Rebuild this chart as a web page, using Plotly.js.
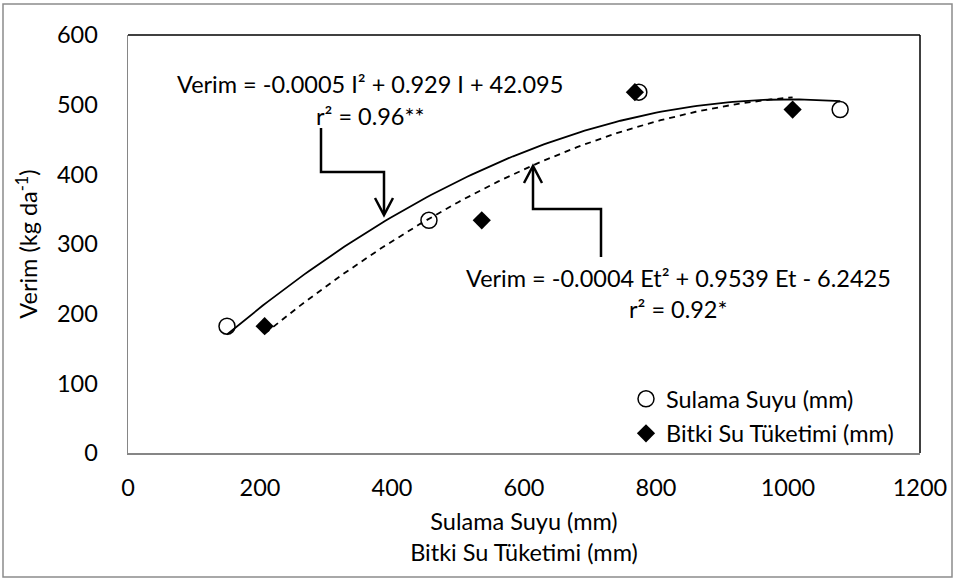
<!DOCTYPE html>
<html><head><meta charset="utf-8">
<script src="https://cdn.plot.ly/plotly-3.0.1.min.js"></script>
<style>html,body{margin:0;padding:0;background:#fff}#chart{width:955px;height:578px}</style>
</head><body><div id="chart"></div>
<script>
// Data
const sulamaSuyu = [150, 456, 774, 1079];      // irrigation water (mm)
const bitkiSu    = [207, 536, 768, 1007];      // crop water use (mm)
const verim      = [182, 334, 518, 493];       // yield (kg da-1)
const xTicks = [0, 200, 400, 600, 800, 1000, 1200];
const yTicks = [0, 100, 200, 300, 400, 500, 600];

// Least-squares quadratic (Excel polynomial trendline, order 2)
function quadFit(xs, ys) {
  const n = xs.length; let S = [0,0,0,0,0], T = [0,0,0];
  for (let i = 0; i < n; i++) {
    const x = xs[i], y = ys[i];
    for (let k = 0; k < 5; k++) S[k] += Math.pow(x, k);
    for (let k = 0; k < 3; k++) T[k] += y * Math.pow(x, k);
  }
  const A = [[S[0],S[1],S[2],T[0]],[S[1],S[2],S[3],T[1]],[S[2],S[3],S[4],T[2]]];
  for (let i = 0; i < 3; i++) {
    let p = i; for (let r = i+1; r < 3; r++) if (Math.abs(A[r][i]) > Math.abs(A[p][i])) p = r;
    [A[i], A[p]] = [A[p], A[i]];
    for (let r = 0; r < 3; r++) if (r !== i) {
      const f = A[r][i] / A[i][i];
      for (let c = i; c < 4; c++) A[r][c] -= f * A[i][c];
    }
  }
  return [A[0][3]/A[0][0], A[1][3]/A[1][1], A[2][3]/A[2][2]];
}
function trend(xs, ys) {
  const c = quadFit(xs, ys), lo = Math.min(...xs), hi = Math.max(...xs);
  const tx = [], ty = [];
  for (let i = 0; i <= 120; i++) { const x = lo + (hi - lo) * i / 120; tx.push(x); ty.push(c[0] + c[1]*x + c[2]*x*x); }
  return {x: tx, y: ty};
}
const tI = trend(sulamaSuyu, verim), tE = trend(bitkiSu, verim);

const FONT = () => ({family: 'Lato, Open Sans, sans-serif', size: 23.5, color: '#000'});
const L = 128, R = 35, T = 35, B = 125, W = 955, H = 578;
const pw = W - L - R, ph = H - T - B;
const X = px => (px - L) / pw * 1200;
const Y = py => (H - B - py) / ph * 600;
function path(pts) {
  return pts.map((p, i) => (i ? 'L' : 'M') + X(p[0]) + ',' + Y(p[1])).join(' ');
}
const lineStyle = () => ({color: '#000', width: 2.5});
const shapes = [
  {type: 'path', xref: 'x', yref: 'y', path: path([[321,128],[321,172],[384,172],[384,213]]), line: lineStyle()},
  {type: 'path', xref: 'x', yref: 'y', path: path([[375,198],[384,215],[393,198]]), line: lineStyle()},
  {type: 'path', xref: 'x', yref: 'y', path: path([[601,257],[601,209],[533,209],[533,168]]), line: lineStyle()},
  {type: 'path', xref: 'x', yref: 'y', path: path([[524,183],[533,166],[542,183]]), line: lineStyle()},
  {type: 'line', xref: 'paper', yref: 'paper', x0: 0, x1: 1, y0: 1, y1: 1, line: {color: '#000', width: 1.5}},
  {type: 'line', xref: 'paper', yref: 'paper', x0: 1, x1: 1, y0: 0, y1: 1, line: {color: '#000', width: 1.5}},
  {type: 'rect', xref: 'paper', yref: 'paper', x0: (3 - L)/pw, x1: (952 - L)/pw, y0: (H - B - 577)/ph, y1: (H - B - 4)/ph, line: {color: '#8c8c8c', width: 1.5}, layer: 'below'}
];

const data = [
  {x: sulamaSuyu, y: verim, mode: 'markers', name: 'Sulama Suyu (mm)', legendgroup: 'a',
   marker: {symbol: 'circle', size: 16, color: '#fff', line: {color: '#000', width: 1.5}}},
  {x: bitkiSu, y: verim, mode: 'markers', name: 'Bitki Su Tüketimi (mm)', legendgroup: 'b',
   marker: {symbol: 'diamond', size: 14, color: '#000', line: {color: '#000', width: 0}}},
  {x: tI.x, y: tI.y, mode: 'lines', line: {color: '#000', width: 1.8}, showlegend: false, hoverinfo: 'skip'},
  {x: tE.x, y: tE.y, mode: 'lines', line: {color: '#000', width: 1.8, dash: '6px,5px'}, showlegend: false, hoverinfo: 'skip'}
];

const layout = {
  width: W, height: H,
  margin: {l: L, r: R, t: T, b: B, pad: 0},
  paper_bgcolor: '#fff', plot_bgcolor: '#fff',
  font: FONT(),
  showlegend: true,
  legend: {x: (626 - L) / pw, xanchor: 'left', y: (453 - 377) / ph, yanchor: 'top', bgcolor: 'rgba(0,0,0,0)',
           font: FONT(), tracegroupgap: 1, traceorder: 'grouped', itemwidth: 30},
  xaxis: {range: [0, 1200], tickvals: xTicks, ticktext: xTicks.map(String), showgrid: false, zeroline: false,
          showline: true, linecolor: '#868686', linewidth: 1.5, ticks: '', ticklabelstandoff: 13,
          tickfont: FONT(), fixedrange: true,
          title: {text: 'Sulama Suyu (mm)<br>Bitki Su Tüketimi (mm)', font: FONT(), standoff: 14}},
  yaxis: {range: [0, 600], tickvals: yTicks, ticktext: yTicks.map(String), showgrid: false, zeroline: false,
          showline: true, linecolor: '#868686', linewidth: 1.5, ticks: '', ticklabelstandoff: 24,
          tickfont: FONT(), fixedrange: true,
          title: {text: 'Verim (kg da<sup>-1</sup>)', font: FONT(), standoff: 12}},
  shapes: shapes,
  annotations: [
    {xref: 'x', yref: 'y', x: X(175), y: Y(84), xanchor: 'left', text: 'Verim = -0.0005 I² + 0.929 I + 42.095', showarrow: false, font: FONT()},
    {xref: 'x', yref: 'y', x: X(370), y: Y(116), text: 'r² = 0.96**', showarrow: false, font: FONT()},
    {xref: 'x', yref: 'y', x: X(678), y: Y(278), text: 'Verim = -0.0004 Et² + 0.9539 Et - 6.2425', showarrow: false, font: FONT()},
    {xref: 'x', yref: 'y', x: X(678), y: Y(309), text: 'r² = 0.92*', showarrow: false, font: FONT()}
  ]
};
Plotly.newPlot('chart', data, layout, {displayModeBar: false, staticPlot: true});
</script></body></html>
